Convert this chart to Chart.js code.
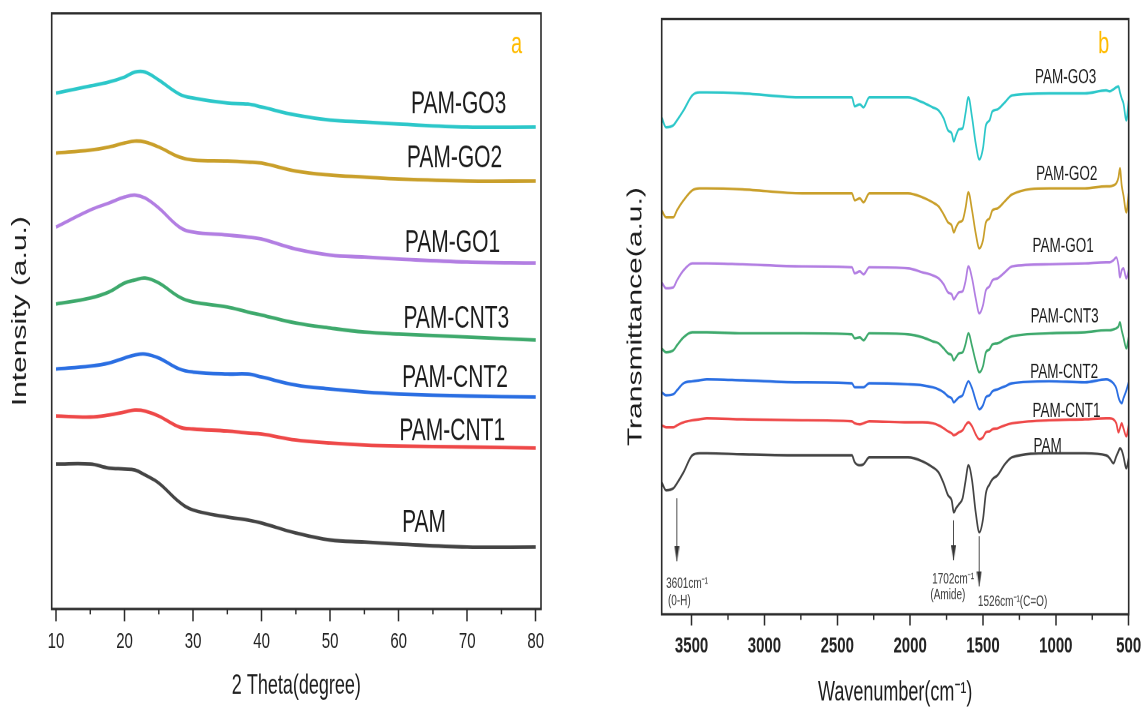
<!DOCTYPE html>
<html>
<head>
<meta charset="utf-8">
<title>PAM composites: XRD and FTIR</title>
<script src="https://cdn.jsdelivr.net/npm/chart.js@4.4.1/dist/chart.umd.min.js"></script>
<style>
  html, body { margin: 0; padding: 0; background: #fff; }
  body { width: 1146px; height: 709px; position: relative; overflow: hidden; }
  .panel { position: absolute; top: 0; }
  /* the figure is drawn tall and narrow: stretch each canvas vertically */
  .panel canvas { transform: scaleY(1.5); transform-origin: 0 0; }
</style>
</head>
<body>
<div class="panel" style="left:0"><canvas id="xrd" width="580" height="473"></canvas></div>
<div class="panel" style="left:580px"><canvas id="ftir" width="566" height="473"></canvas></div>
<script>
// ---- data ----
const sampleNames = ["PAM-GO3", "PAM-GO2", "PAM-GO1", "PAM-CNT3", "PAM-CNT2", "PAM-CNT1", "PAM"];

// XRD (a), intensity in arbitrary units, curves already offset
const twoTheta = [10, 15, 17.7, 20, 21.5, 23, 25, 28, 30, 35, 38, 40, 45, 50, 55, 60, 70, 80];
const xrdGO3  = [516, 523, 527, 532, 537, 537, 529, 515, 511, 506, 505, 502, 494, 489, 487, 485, 482, 482];
const xrdGO2  = [456, 459, 462, 466, 468, 467, 462, 452, 449, 448, 447, 446, 438, 434, 432, 430, 428, 428];
const xrdGO1  = [382, 399, 406, 412, 414, 411, 401, 382, 377, 374, 372, 370, 360, 354, 352, 350, 347, 346];
const xrdCNT3 = [305, 311, 317, 326, 329, 331, 326, 312, 307, 302, 297, 294, 286, 281, 277, 275, 272, 269];
const xrdCNT2 = [240, 243, 246, 251, 254, 255, 251, 240, 237, 235, 235, 232, 224, 220, 217, 215, 213, 212];
const xrdCNT1 = [193, 192, 194, 197, 199, 198, 193, 182, 180, 178, 176, 175, 169, 166, 164, 163, 162, 161];
const xrdPAM  = [145, 145, 141, 140, 139, 134, 126, 107, 99, 92, 89, 86, 76, 69, 67, 65, 62, 62];
const xrdTicks = [10, 20, 30, 40, 50, 60, 70, 80];
const xrdMinorTicks = [15, 25, 35, 45, 55, 65, 75];

// FTIR (b), transmittance in arbitrary units, curves already offset
const wavenumber = [3705, 3675, 3625, 3600, 3555, 3495, 3445, 3395, 3150, 2740,
                    2400, 2380, 2345, 2320, 2280, 2015,
                    1915, 1845, 1805, 1770, 1740, 1715, 1700, 1685, 1665, 1640,
                    1620, 1600, 1575, 1550, 1525, 1500, 1480, 1455, 1435, 1400,
                    1350, 1300,
                    1045, 800, 655, 630, 605, 585, 570, 560, 548, 536, 516, 500];
const ftirGO3  = [497, 487, 489, 494, 504, 519, 522, 522, 521, 517,
                  517, 508, 510, 507, 517, 517,
                  512, 507, 504, 496, 484, 481, 473, 479, 485, 486,
                  501, 517, 497, 471, 455, 466, 489, 494, 503, 505,
                  512, 519,
                  521, 521, 524, 523, 525, 527, 528, 522, 516, 511, 494, 514];
const ftirGO2  = [404, 397, 397, 404, 414, 424, 426, 426, 425, 421,
                  421, 414, 416, 412, 421, 421,
                  417, 412, 408, 400, 392, 389, 382, 387, 392, 394,
                  406, 422, 404, 381, 366, 374, 392, 396, 404, 406,
                  413, 420,
                  426, 426, 428, 428, 429, 431, 437, 446, 429, 419, 402, 421];
const ftirGO1  = [332, 326, 327, 334, 344, 351, 351, 351, 350, 348,
                  347, 341, 343, 340, 347, 346,
                  342, 339, 336, 330, 322, 320, 315, 318, 322, 323,
                  333, 348, 336, 316, 301, 309, 324, 328, 334, 336,
                  342, 348,
                  350, 351, 352, 352, 354, 357, 349, 337, 344, 346, 336, 344];
const ftirCNT3 = [266, 262, 264, 269, 277, 282, 282, 282, 281, 281,
                  280, 276, 277, 274, 281, 280,
                  277, 273, 271, 266, 261, 259, 254, 257, 261, 262,
                  270, 281, 268, 253, 242, 248, 262, 265, 270, 271,
                  275, 278,
                  281, 282, 284, 284, 285, 286, 288, 292, 284, 277, 266, 277];
const ftirCNT2 = [222, 219, 220, 224, 231, 233, 234, 235, 234, 232,
                  231, 227, 227, 227, 231, 230,
                  229, 227, 225, 222, 218, 216, 212, 214, 217, 219,
                  227, 233, 226, 214, 205, 209, 217, 219, 223, 225,
                  228, 231,
                  233, 232, 235, 234, 231, 226, 217, 213, 211, 216, 224, 232];
const ftirCNT1 = [189, 187, 187, 189, 192, 194, 195, 196, 195, 194,
                  193, 191, 190, 191, 193, 192,
                  192, 191, 189, 186, 183, 181, 179, 180, 182, 184,
                  189, 192, 188, 180, 175, 177, 182, 183, 185, 186,
                  189, 191,
                  194, 195, 196, 196, 195, 191, 182, 186, 191, 186, 178, 189];
const ftirPAM  = [132, 124, 126, 131, 142, 159, 161, 161, 160, 159,
                  159, 152, 149, 150, 157, 157,
                  153, 147, 142, 131, 119, 114, 102, 106, 110, 116,
                  133, 149, 134, 102, 82, 95, 121, 130, 135, 139,
                  150, 157,
                  161, 161, 159, 156, 151, 158, 163, 166, 164, 158, 146, 156];
const ftirTicks = [3500, 3000, 2500, 2000, 1500, 1000, 500];
const ftirMinorTicks = [3250, 2750, 2250, 1750, 1250, 750];

// marked bands on the PAM spectrum: wavenumber, arrow start, arrow tip
const bandPos = [3601, 1702, 1526];
const bandFrom = [116, 94, 78];
const bandTo = [53, 54, 28];

// ---- styling ----
const palette = ["#2cc7c9", "#c99f2a", "#b27ee2", "#3ea96c", "#2a6ee2", "#ee4848", "#444444"];
const FONT = "'Liberation Sans', Arial, sans-serif";
const INK = "#1c1c1c";

// series label anchors (x in data units, y = baseline in data units)
const xrdLabelAt = [[61.8, 496], [61.2, 442], [60.9, 357], [60.7, 281], [60.5, 222], [60.1, 169], [60.5, 77]];
const ftirLabelAt = [[1143, 531], [1135, 434], [1160, 362], [1173, 292], [1176, 236], [1160, 197], [1153, 162]];

// frame around the plot area plus the short unlabelled ticks
function framePlugin(minor, minorLen) {
  return {
    id: 'frame',
    afterDatasetsDraw(chart) {
      const {ctx, chartArea: a, scales: {x}} = chart;
      ctx.save();
      ctx.strokeStyle = '#2b2b2b';
      ctx.lineWidth = 1.6;
      ctx.strokeRect(a.left, a.top, a.right - a.left, a.bottom - a.top);
      ctx.lineWidth = 1.4;
      minor.forEach(v => {
        const px = x.getPixelForValue(v);
        ctx.beginPath();
        ctx.moveTo(px, a.bottom);
        ctx.lineTo(px, a.bottom + minorLen);
        ctx.stroke();
      });
      ctx.restore();
    }
  };
}

// free text placed in data coordinates
function textPlugin(items) {
  return {
    id: 'texts',
    afterDraw(chart) {
      const {ctx, scales: {x, y}} = chart;
      ctx.save();
      ctx.textAlign = 'left';
      ctx.textBaseline = 'alphabetic';
      items.forEach(t => {
        ctx.font = t.font;
        ctx.fillStyle = t.color || INK;
        ctx.fillText(t.text, x.getPixelForValue(t.x), y.getPixelForValue(t.y));
      });
      ctx.restore();
    }
  };
}

function seriesSets(xs, series, width, curve) {
  return series.map((vals, i) => Object.assign({
    label: sampleNames[i],
    data: xs.map((v, j) => ({x: v, y: vals[j]})),
    borderColor: palette[i],
    borderWidth: width,
    pointRadius: 0
  }, curve));
}

function panelOptions(o) {
  return {
    responsive: false,
    devicePixelRatio: 2,
    animation: false,
    events: [],
    layout: {padding: {top: o.padTop, right: o.padRight, bottom: 0, left: 0}},
    plugins: {legend: {display: false}, tooltip: {enabled: false}},
    scales: {
      x: {
        type: 'linear',
        bounds: 'data',
        min: o.xMin, max: o.xMax,
        reverse: o.reverse,
        afterBuildTicks: s => { s.ticks = o.ticks.map(v => ({value: v})); },
        afterFit: s => { s.height = o.xAxisH; },
        grid: {display: true, drawOnChartArea: false, drawTicks: true, tickLength: o.tickLen,
               tickColor: '#2b2b2b', tickWidth: 1.5},
        border: {display: false},
        ticks: {autoSkip: false, maxRotation: 0, padding: o.tickPad, color: '#222',
                font: {family: FONT, size: 15, weight: o.tickWeight},
                callback: v => String(v)},
        title: {display: true, text: o.xTitle, color: INK,
                font: {family: FONT, size: 18}, padding: {top: 0, bottom: o.xTitlePad}}
      },
      y: {
        type: 'linear',
        min: 0, max: o.yMax,
        afterFit: s => { s.width = o.yAxisW; },
        grid: {display: false},
        border: {display: false},
        ticks: {display: false},
        title: {display: true, text: o.yTitle, color: INK,
                font: {family: FONT, size: 20}, padding: {top: o.yTitlePad, bottom: 0}}
      }
    }
  };
}

// ---- (a) XRD ----
const xrdTexts = sampleNames.map((n, i) => ({
  text: n, x: xrdLabelAt[i][0], y: xrdLabelAt[i][1], font: `21px ${FONT}`
}));
xrdTexts.push({text: 'a', x: 76.4, y: 556, font: `20px ${FONT}`, color: '#ffbb00'});

new Chart(document.getElementById('xrd'), {
  type: 'line',
  data: {datasets: seriesSets(twoTheta, [xrdGO3, xrdGO2, xrdGO1, xrdCNT3, xrdCNT2, xrdCNT1, xrdPAM], 2.4,
                              {tension: 0.4})},
  options: panelOptions({
    padTop: 8.9, padRight: 39, xAxisH: 67, yAxisW: 51.7,
    xMin: 9.37, xMax: 80.77, reverse: false, ticks: xrdTicks,
    tickLen: 8.2, tickPad: 4.5, tickWeight: 'normal',
    xTitle: '2 Theta(degree)', xTitlePad: 4.6,
    yTitle: 'Intensity (a.u.)', yTitlePad: 8.7, yMax: 595.7
  }),
  plugins: [framePlugin(xrdMinorTicks, 3.6), textPlugin(xrdTexts)]
});

// ---- (b) FTIR ----
const arrowHead = document.createElement('canvas');
arrowHead.width = 5;
arrowHead.height = 20;
(() => {
  const c = arrowHead.getContext('2d');
  c.fillStyle = '#333';
  c.beginPath();
  c.moveTo(0, 0); c.lineTo(5, 0); c.lineTo(2.5, 10);
  c.closePath();
  c.fill();
})();

const bandSets = bandPos.map((w, i) => ({
  label: 'band ' + w,
  data: [{x: w, y: bandFrom[i]}, {x: w, y: bandTo[i]}],
  borderColor: '#3a3a3a',
  borderWidth: 0.9,
  pointRadius: 3,
  pointStyle: ctx => ctx.dataIndex === 1 ? arrowHead : false
}));

const ftirTexts = sampleNames.map((n, i) => ({
  text: n, x: ftirLabelAt[i][0], y: ftirLabelAt[i][1], font: `13.5px ${FONT}`
}));
const noteFont = `10px ${FONT}`;
ftirTexts.push(
  {text: '3601cm⁻¹', x: 3675, y: 26, font: noteFont, color: '#3a3a3a'},
  {text: '(0-H)', x: 3662, y: 9, font: noteFont, color: '#3a3a3a'},
  {text: '1702cm⁻¹', x: 1849, y: 31, font: noteFont, color: '#3a3a3a'},
  {text: '(Amide)', x: 1861, y: 15, font: noteFont, color: '#3a3a3a'},
  {text: '1526cm⁻¹(C=O)', x: 1535, y: 8, font: noteFont, color: '#3a3a3a'},
  {text: 'b', x: 710, y: 561, font: `20px ${FONT}`, color: '#ffbb00'}
);

new Chart(document.getElementById('ftir'), {
  type: 'line',
  data: {datasets: seriesSets(wavenumber, [ftirGO3, ftirGO2, ftirGO1, ftirCNT3, ftirCNT2, ftirCNT1, ftirPAM], 1.7,
                              {cubicInterpolationMode: 'monotone'}).concat(bandSets)},
  options: panelOptions({
    padTop: 12.7, padRight: 14.3, xAxisH: 63.5, yAxisW: 81.7,
    xMin: 500, xMax: 3705, reverse: true, ticks: ftirTicks,
    tickLen: 7.5, tickPad: 4.8, tickWeight: 'bold',
    xTitle: 'Wavenumber(cm⁻¹)', xTitlePad: 0.3,
    yTitle: 'Transmittance(a.u.)', yTitlePad: 44, yMax: 595.3
  }),
  plugins: [framePlugin(ftirMinorTicks, 3.8), textPlugin(ftirTexts)]
});
</script>
</body>
</html>
